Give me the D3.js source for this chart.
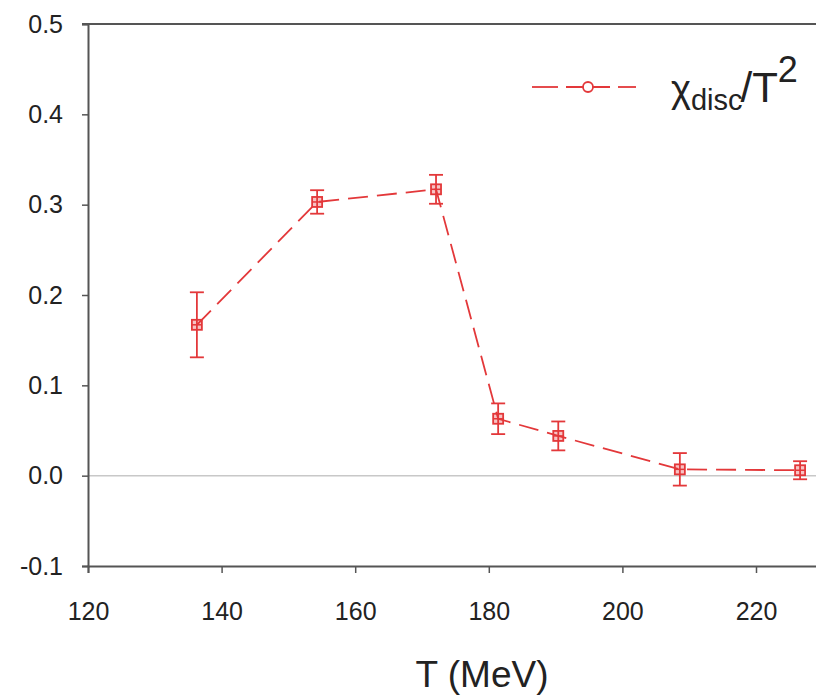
<!DOCTYPE html>
<html><head><meta charset="utf-8">
<script src="https://cdn.jsdelivr.net/npm/d3@7"></script>
<style>body{margin:0;background:#fff}svg{display:block}</style>
</head><body><svg id="c" width="816" height="697"></svg>
<script>
const temps = [136.3, 154.3, 172.1, 181.4, 190.4, 208.6, 226.6];
const chi = [0.167, 0.303, 0.317, 0.063, 0.044, 0.007, 0.006];
const errs = [0.036, 0.013, 0.016, 0.017, 0.016, 0.018, 0.010];
const xTicks = [120, 140, 160, 180, 200, 220];
const yTicks = [-0.1, 0.0, 0.1, 0.2, 0.3, 0.4, 0.5];

const svg = d3.select('#c');
const mLeft = 88, mTop = 24, mBottom = 566;
const x = d3.scaleLinear().domain([120, 240]).range([mLeft, mLeft + 6 * 133.6]);
const y = d3.scaleLinear().domain([-0.1, 0.5]).range([mBottom, mTop]);
const red = '#e3383a', axisCol = '#555';
const font = 'Liberation Sans, Arial, sans-serif';

// zero line
svg.append('line').attr('x1', mLeft).attr('x2', 816).attr('y1', y(0)).attr('y2', y(0))
  .attr('stroke', '#c8c8c8').attr('stroke-width', 1.5);

// axes
const gx = svg.append('g').attr('transform', `translate(0,${mBottom})`)
  .call(d3.axisBottom(x).tickValues(xTicks).tickSize(7).tickPadding(29).tickFormat(d3.format('d')));
const gy = svg.append('g').attr('transform', `translate(${mLeft},0)`)
  .call(d3.axisLeft(y).tickValues(yTicks).tickSize(6).tickPadding(19).tickFormat(d3.format('.1f')));
[gx, gy].forEach(g => {
  g.select('.domain').attr('stroke', axisCol).attr('stroke-width', 2);
  g.selectAll('.tick line').attr('stroke', axisCol).attr('stroke-width', 1.5);
  g.selectAll('.tick text').attr('font-family', font).attr('font-size', 25).attr('fill', '#222');
});
gy.selectAll('.tick text').text(d => d3.format('.1f')(d).replace('−', '-'));
// top border
svg.append('line').attr('x1', mLeft - 6).attr('x2', 816).attr('y1', mTop).attr('y2', mTop)
  .attr('stroke', axisCol).attr('stroke-width', 2);

// axis title
svg.append('text').attr('x', 482).attr('y', 687).attr('text-anchor', 'middle')
  .attr('font-family', font).attr('font-size', 37).attr('fill', '#222').text('T (MeV)');

// data line
const pts = temps.map((t, i) => ({t, v: chi[i], e: errs[i]}));
svg.append('path').datum(pts)
  .attr('d', d3.line().x(d => x(d.t)).y(d => y(d.v)))
  .attr('fill', 'none').attr('stroke', red).attr('stroke-width', 1.8)
  .attr('stroke-dasharray', '20,9');

// error bars
const eb = svg.append('g').attr('stroke', red).attr('stroke-width', 1.8);
pts.forEach(d => {
  const cx = x(d.t);
  eb.append('line').attr('x1', cx).attr('x2', cx).attr('y1', y(d.v + d.e)).attr('y2', y(d.v - d.e));
  [d.v + d.e, d.v - d.e].forEach(v => eb.append('line').attr('x1', cx - 7).attr('x2', cx + 7).attr('y1', y(v)).attr('y2', y(v)));
});
// markers
const mk = svg.append('g');
mk.selectAll('rect').data(pts).join('rect')
  .attr('x', d => x(d.t) - 5).attr('y', d => y(d.v) - 5).attr('width', 10).attr('height', 10)
  .attr('fill', 'rgba(227,56,58,0.3)').attr('stroke', red).attr('stroke-width', 1.8);
mk.selectAll('line').data(pts).join('line')
  .attr('x1', d => x(d.t) - 5).attr('x2', d => x(d.t) + 5).attr('y1', d => y(d.v)).attr('y2', d => y(d.v))
  .attr('stroke', red).attr('stroke-width', 1.5);

// legend
const ly = 87;
const lg = svg.append('g');
[[532, 558], [566, 610], [618, 636]].forEach(s => lg.append('line').attr('x1', s[0]).attr('x2', s[1])
  .attr('y1', ly).attr('y2', ly).attr('stroke', red).attr('stroke-width', 1.8));
lg.append('circle').attr('cx', 588).attr('cy', ly).attr('r', 5).attr('fill', 'white')
  .attr('stroke', red).attr('stroke-width', 1.8);
const lt = lg.append('text').attr('x', 671).attr('y', 102).attr('font-family', font).attr('fill', '#222');
lt.append('tspan').attr('font-size', 38).text('χ');
lt.append('tspan').attr('font-size', 29).attr('dy', 8).text('disc');
lt.append('tspan').attr('font-size', 42).attr('dy', -8).attr('dx', -2).text('/T');
lt.append('tspan').attr('font-size', 36).attr('dy', -20).text('2');
</script></body></html>
